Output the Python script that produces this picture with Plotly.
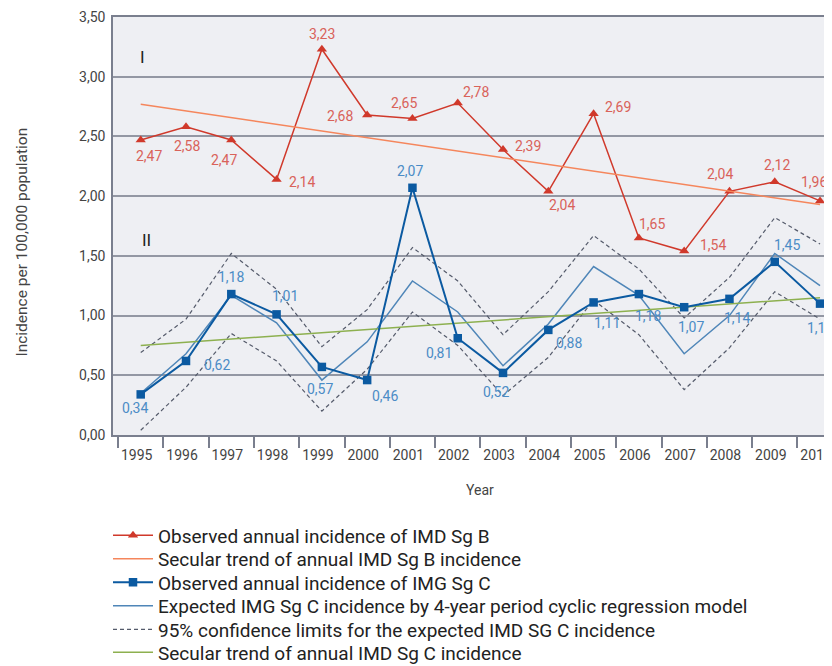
import plotly.graph_objects as go

years = [str(y) for y in range(1995, 2011)]
obs_b = [2.47, 2.58, 2.47, 2.14, 3.23, 2.68, 2.65, 2.78, 2.39, 2.04, 2.69, 1.65, 1.54, 2.04, 2.12, 1.96]
trend_b = [2.77, 1.93]
obs_c = [0.34, 0.62, 1.18, 1.01, 0.57, 0.46, 2.07, 0.81, 0.52, 0.88, 1.11, 1.18, 1.07, 1.14, 1.45, 1.10]
expected_c = [0.35, 0.68, 1.17, 0.94, 0.46, 0.78, 1.29, 1.03, 0.58, 0.93, 1.41, 1.17, 0.68, 1.00, 1.52, 1.25]
upper_c = [0.69, 0.97, 1.52, 1.22, 0.74, 1.05, 1.57, 1.29, 0.84, 1.20, 1.67, 1.39, 0.98, 1.32, 1.82, 1.60]
lower_c = [0.04, 0.40, 0.85, 0.62, 0.20, 0.55, 1.03, 0.75, 0.33, 0.65, 1.13, 0.84, 0.38, 0.73, 1.20, 0.97]
trend_c = [0.75, 1.15]
y_ticks = [0, 0.5, 1, 1.5, 2, 2.5, 3, 3.5]

# label pixel offsets (xshift, yshift) — style only
off_b = [(8, -16), (1, -19), (-7, -20), (25, -3), (0, 15), (-27, -1), (-8, 16), (18, 11),
         (25, 4), (14, -14), (24, 7), (13, 14), (29, 6), (-9, 17), (2, 17), (-6, 19)]
off_c = [(-6, -14), (31, -4), (0, 17), (8, 18), (-2, -22), (18, -16), (-2, 17), (-19, -15),
         (-7, -19), (21, -13), (13, -21), (9, -22), (7, -20), (8, -19), (12, 17), (0, -24)]

RED = "#d0392b"
RED_LBL = "#d9625a"
ORANGE = "#f5865c"
BLUE = "#0b5aa1"
BLUE_LBL = "#4b8cc6"
STEEL = "#4f86b8"
GREY_D = "#555b6b"
GREEN = "#8db04f"
FONT = "Roboto"

# page body has an 8px margin: figure is sized/offset to compensate
W, H = 824, 658
OFF = 8

fig = go.Figure()
fig.add_trace(go.Scatter(x=years, y=obs_b, mode="lines+markers", name="Observed annual incidence of IMD Sg B",
                         line=dict(color=RED, width=1.5), marker=dict(symbol="triangle-up", size=9, color=RED),
                         legend="legend"))
fig.add_trace(go.Scatter(x=[years[0], years[-1]], y=trend_b, mode="lines", name="Secular trend of annual IMD Sg B incidence",
                         line=dict(color=ORANGE, width=1.5), legend="legend2"))
fig.add_trace(go.Scatter(x=years, y=expected_c, mode="lines", name="Expected IMG Sg C incidence by 4-year period cyclic regression model",
                         line=dict(color=STEEL, width=1.5), legend="legend4"))
fig.add_trace(go.Scatter(x=years, y=upper_c, mode="lines", name="95% confidence limits for the expected IMD SG C incidence",
                         line=dict(color=GREY_D, width=1.2, dash="4px,3px"), legend="legend5"))
fig.add_trace(go.Scatter(x=years, y=lower_c, mode="lines", showlegend=False,
                         line=dict(color=GREY_D, width=1.2, dash="4px,3px")))
fig.add_trace(go.Scatter(x=[years[0], years[-1]], y=trend_c, mode="lines", name="Secular trend of annual IMD Sg C incidence",
                         line=dict(color=GREEN, width=1.5), legend="legend6"))
fig.add_trace(go.Scatter(x=years, y=obs_c, mode="lines+markers", name="Observed annual incidence of IMG Sg C",
                         line=dict(color=BLUE, width=2), marker=dict(symbol="square", size=8.5, color=BLUE),
                         legend="legend3"))

ann = []
for i, v in enumerate(obs_b):
    ann.append(dict(x=i, y=v, text=f"{v:.2f}".replace(".", ","), showarrow=False,
                    xshift=off_b[i][0], yshift=off_b[i][1],
                    font=dict(color=RED_LBL, size=14, family=FONT)))
for i, v in enumerate(obs_c):
    ann.append(dict(x=i, y=v, text=f"{v:.2f}".replace(".", ","), showarrow=False,
                    xshift=off_c[i][0], yshift=off_c[i][1],
                    font=dict(color=BLUE_LBL, size=14, family=FONT)))
center = dict(xanchor="center", yanchor="middle", showarrow=False, xref="paper", yref="paper")
ann.append(dict(center, x=0.0417, y=0.904, text="I", font=dict(color="#222", size=17, family=FONT)))
ann.append(dict(center, x=0.046, y=0.4665, text="II", font=dict(color="#222", size=17, family=FONT)))
ann.append(dict(center, x=-0.127, y=0.462, text="Incidence per 100,000 population",
                textangle=-90, font=dict(color="#444", size=15.5, family=FONT)))
ann.append(dict(center, x=0.51, y=-0.1316, text="Year", font=dict(color="#444", size=14, family=FONT)))

row_y = [535.5, 559, 582.5, 606, 629.5, 652.5]
leg_common = dict(xref="container", yref="container", x=(108 - OFF) / W, xanchor="left", yanchor="middle",
                  bgcolor="rgba(0,0,0,0)", font=dict(size=19, color="#222", family=FONT), itemwidth=40)
legends = {}
for k, ry in enumerate(row_y):
    key = "legend" if k == 0 else f"legend{k + 1}"
    legends[key] = dict(leg_common, y=1 - (ry - OFF) / H)

fig.update_layout(
    width=W, height=H,
    margin=dict(l=113 - OFF, r=0, t=17 - OFF, b=H - (435 - OFF), autoexpand=False),
    paper_bgcolor="white", plot_bgcolor="#eeeff3",
    separators=",.",
    font=dict(family=FONT, color="#444"),
    annotations=ann,
    showlegend=True,
    **legends,
)
fig.update_xaxes(type="category", range=[-0.612, 15.264], showgrid=False, showline=True, mirror=True,
                 linecolor="#7a7f8e", linewidth=1.5, ticks="outside", tickson="boundaries", ticklen=11,
                 tickcolor="#7a7f8e", tickwidth=1.5, tickfont=dict(size=14, color="#444", family=FONT),
                 ticklabelshift=-4, ticklabelstandoff=6)
fig.update_yaxes(range=[0, 3.5], tickvals=y_ticks, tickformat=".2f", showgrid=True, gridcolor="#9397a3",
                 gridwidth=2, showline=True, linecolor="#7a7f8e", linewidth=1.5, zeroline=False,
                 ticks="", tickfont=dict(size=14, color="#444", family=FONT), ticklabelstandoff=3)

fig.write_html("out.html")
